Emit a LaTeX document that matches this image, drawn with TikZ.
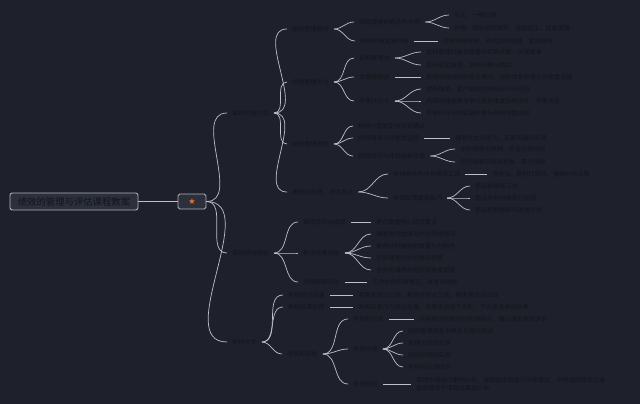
\documentclass[tikz,border=0pt]{standalone}
\usepackage{fontspec}
\newfontfamily\cjk{Noto Sans CJK SC}
\newfontfamily\symfont{DejaVu Sans}
\usetikzlibrary{positioning}
\definecolor{mapbg}{RGB}{30,33,44}
\definecolor{maptext}{RGB}{20,21,26}
\definecolor{mapline}{RGB}{190,192,200}
\definecolor{boxfill}{RGB}{44,47,60}
\definecolor{boxline}{RGB}{175,177,185}
\definecolor{staramber}{RGB}{238,118,42}

\begin{document}
\begin{tikzpicture}[
    x=0.03cm, y=-0.03cm,
    every node/.style={font=\cjk\fontsize{5.2}{6.6}\selectfont, text=maptext},
    rootbox/.style={rectangle, draw=boxline, fill=boxfill, rounded corners=2pt, line width=0.8pt,
                    minimum width=3.84cm, minimum height=0.51cm, font=\cjk\fontsize{8}{9}\selectfont},
    starbox/.style={rectangle, draw=boxline, fill=boxfill, rounded corners=1.5pt, line width=0.8pt,
                    minimum width=0.84cm, minimum height=0.45cm, font=\symfont\fontsize{7}{8}\selectfont,
                    text=staramber},
    item/.style={anchor=west, inner xsep=0.15cm, inner ysep=0.5pt, xshift=-0.15cm},
    branch/.style={draw=mapline, line width=0.6pt},
    stem/.style={draw=mapline, line width=0.6pt}
]
\fill[mapbg] (0,0) rectangle (640,404);
\useasboundingbox (0,0) rectangle (640,404);

% root and star
\node[rootbox] (tit) at (74,201.5) {绩效的管理与评估课程教案};
\node[starbox] (star) at (192,201.5) {★};
\draw[stem] (tit.east) -- (star.west);

% level 1
\node[item] (content) at (232,113) {课程内容介绍};
\node[item] (assess) at (232,253) {课程评估指标};
\node[item] (exam) at (232,342) {考核方式};
\foreach \c in {content,assess,exam}
    \draw[branch] (star.east) to[out=0,in=180] (\c.west);

% course content
\node[item] (ovw) at (292,29) {绩效管理概述};
\node[item] (mth) at (292,82) {绩效管理方法};
\node[item] (prc) at (292,144) {绩效管理流程};
\node[item] (fbk) at (292,192) {考核与反馈，评估方法};
\foreach \c in {ovw,mth,prc,fbk}
    \draw[branch] (content.east) to[out=0,in=180] (\c.west);

\node[item] (ovwdef) at (359,22) {绩效管理的概念与作用};
\node[item] (ovwhis) at (360,41) {绩效管理发展历程};
\foreach \c in {ovwdef,ovwhis}
    \draw[branch] (ovw.east) to[out=0,in=180] (\c.west);
\node[item] (defa) at (454,15) {定义：一种过程};
\node[item] (defb) at (454,28) {作用：提高组织效率，激励员工，促进发展};
\foreach \c in {defa,defb}
    \draw[branch] (ovwdef.east) to[out=0,in=180] (\c.west);
\node[item] (hisa) at (443,41) {传统绩效考核，现代绩效管理，发展趋势};
\draw[stem] (ovwhis.east) -- (hisa.west);

\node[item] (mbo) at (359,58) {目标管理法};
\node[item] (kpi) at (359,77) {关键指标法};
\node[item] (bsc) at (359,101) {平衡计分卡};
\foreach \c in {mbo,kpi,bsc}
    \draw[branch] (mth.east) to[out=0,in=180] (\c.west);
\node[item] (mboa) at (426,52) {目标管理的基本原理与实施步骤，关键要素};
\node[item] (mbob) at (426,65) {目标设定原则，目标分解与跟踪};
\foreach \c in {mboa,mbob}
    \draw[branch] (mbo.east) to[out=0,in=180] (\c.west);
\node[item] (kpia) at (426,77) {关键绩效指标的设计原则，指标体系的建立与权重设置};
\draw[stem] (kpi.east) -- (kpia.west);
\node[item] (bsca) at (426,89) {财务维度、客户维度的指标设计与应用};
\node[item] (bscb) at (426,101) {内部流程维度与学习成长维度指标设计，平衡关系};
\node[item] (bscc) at (426,113) {平衡计分卡的实施步骤与战略地图绘制};
\foreach \c in {bsca,bscb,bscc}
    \draw[branch] (bsc.east) to[out=0,in=180] (\c.west);

\node[item] (plan) at (358,126) {绩效计划制定与目标确认};
\node[item] (coach) at (358,138) {绩效辅导与过程性监控};
\node[item] (rate) at (358,156) {绩效评价与评价结果应用};
\foreach \c in {plan,coach,rate}
    \draw[branch] (prc.east) to[out=0,in=180] (\c.west);
\node[item] (coacha) at (455,138) {辅导方式与技巧，定期沟通与反馈};
\draw[stem] (coach.east) -- (coacha.west);
\node[item] (ratea) at (460,149) {评价结果与薪酬、奖金分配挂钩};
\node[item] (rateb) at (460,162) {评价结果与培训发展、晋升挂钩};
\foreach \c in {ratea,rateb}
    \draw[branch] (rate.east) to[out=0,in=180] (\c.west);

\node[item] (tool) at (393,174) {绩效考核方法与常用工具};
\node[item] (talk) at (393,198) {绩效反馈面谈技巧};
\foreach \c in {tool,talk}
    \draw[branch] (fbk.east) to[out=0,in=180] (\c.west);
\node[item] (toola) at (492,174) {排序法、配对比较法、强制分布法等};
\draw[stem] (tool.east) -- (toola.west);
\node[item] (talka) at (475,186) {面谈前准备工作};
\node[item] (talkb) at (475,198) {面谈中的沟通技巧运用};
\node[item] (talkc) at (475,210) {面谈后的跟踪与改进计划};
\foreach \c in {talka,talkb,talkc}
    \draw[branch] (talk.east) to[out=0,in=180] (\c.west);

% course assessment
\node[item] (goal) at (303,222) {课程目标达成度};
\node[item] (effect) at (303,253) {教学效果评估};
\node[item] (follow) at (303,282) {后续跟踪评估};
\foreach \c in {goal,effect,follow}
    \draw[branch] (assess.east) to[out=0,in=180] (\c.west);
\node[item] (goala) at (376,222) {是否掌握核心知识要点};
\draw[stem] (goal.east) -- (goala.west);
\node[item] (effa) at (376,234) {课堂测试成绩与作业完成情况};
\node[item] (effb) at (376,246) {案例分析报告的质量与创新性};
\node[item] (effc) at (376,258) {学员课堂讨论的参与程度};
\node[item] (effd) at (376,270) {学员对课程内容的满意度调查};
\foreach \c in {effa,effb,effc,effd}
    \draw[branch] (effect.east) to[out=0,in=180] (\c.west);
\node[item] (followa) at (372,282) {工作中的应用情况，改进与规划};
\draw[stem] (follow.east) -- (followa.west);

% examination
\node[item] (score) at (288,295) {考核评分标准};
\node[item] (usage) at (288,307) {考核结果应用};
\node[item] (run) at (287,354) {考核的实施};
\foreach \c in {score,usage,run}
    \draw[branch] (exam.east) to[out=0,in=180] (\c.west);
\node[item] (scorea) at (358,295) {课堂表现占三成，案例分析占三成，期末考试占四成};
\draw[stem] (score.east) -- (scorea.west);
\node[item] (usagea) at (358,307) {考核结果作为结业依据，优秀学员给予表彰，不合格者参加补考};
\draw[stem] (usage.east) -- (usagea.west);

\node[item] (form) at (353,319) {考核的形式};
\node[item] (scope) at (353,349) {考核内容};
\node[item] (time) at (353,384) {考核时间};
\foreach \c in {form,scope,time}
    \draw[branch] (run.east) to[out=0,in=180] (\c.west);
\node[item] (forma) at (419,319) {闭卷笔试与案例分析相结合，辅以课堂表现评价};
\draw[stem] (form.east) -- (forma.west);
\node[item] (scopea) at (408,331) {绩效管理的基本概念与理论知识};
\node[item] (scopeb) at (408,343) {管理方法的应用};
\node[item] (scopec) at (408,355) {绩效流程的实施};
\node[item] (scoped) at (408,367) {考核与反馈技巧};
\foreach \c in {scopea,scopeb,scopec,scoped}
    \draw[branch] (scope.east) to[out=0,in=180] (\c.west);
\node[item, align=left] (timea) at (416,384)
    {课程中期进行案例分析，课程结束前进行闭卷笔试，平时成绩随堂记录\\最终成绩于课程结束后公布};
\draw[stem] (time.east) -- (timea.west);
\end{tikzpicture}
\end{document}
